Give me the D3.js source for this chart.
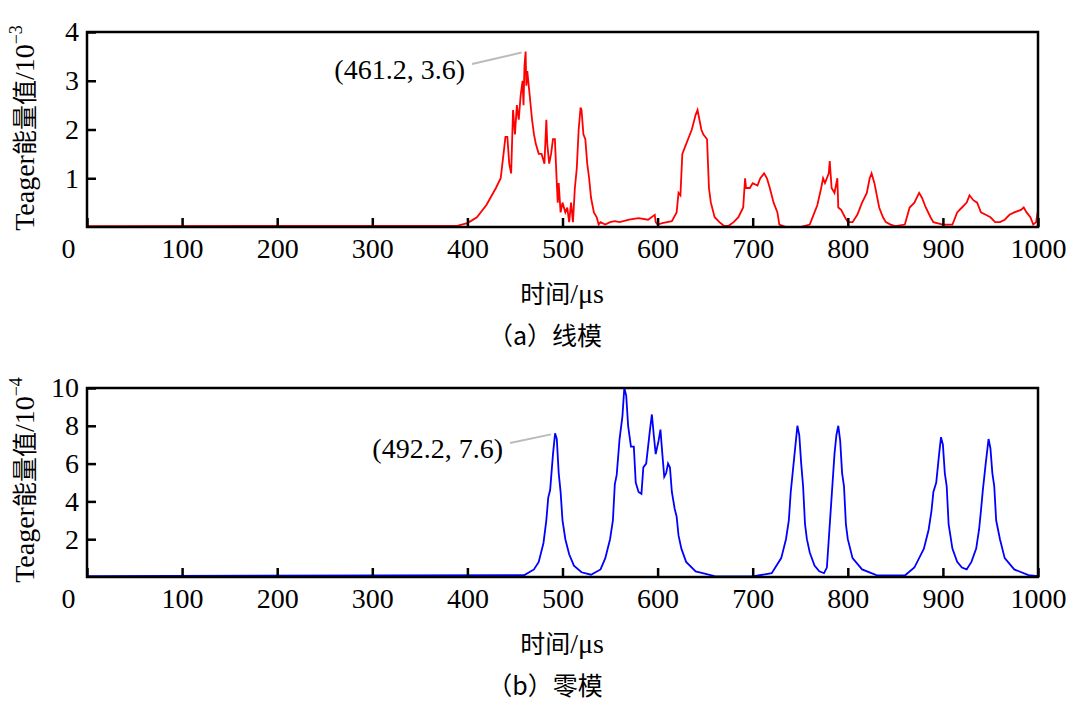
<!DOCTYPE html>
<html><head><meta charset="utf-8">
<script src="https://cdn.jsdelivr.net/npm/d3@7"></script>
<style>body{margin:0;background:#fff}text{font-family:"Liberation Serif","Times New Roman",serif;fill:#000}.cjk{font-family:"Noto Sans CJK SC",sans-serif}</style>
</head><body><svg id="c" width="1071" height="704"></svg>
<script>
const xTicks=[0,100,200,300,400,500,600,700,800,900,1000];
const yTicksA=[1,2,3,4];
const yTicksB=[2,4,6,8,10];
const lineModeT=[0,390,400,410,420,430,435,438,440,442,444,446,448,450,452,454,456,458,459,460,461.2,462,463,465,468,470,472,475,478,481,483,484,486,488,490,492,494,495,496,498,500,503,505,507,509,511,513,515,517,519,520,522,524,526,528,530,533,536,538,540,545,550,555,560,570,580,590,597,598,600,605,610,615,620,622,624,626,630,632,636,640,642,644,646,648,652,654,656,660,665,670,675,680,685,690,692,693,697,700,705,708,712,715,718,722,726,728,735,750,760,765,768,772,774,776,780,781,783,786,789,790,793,797,800,805,810,815,820,823,825,828,830,833,837,840,845,850,860,865,870,875,878,882,887,890,900,910,915,920,925,928,932,936,940,945,950,955,960,965,970,975,982,985,988,992,995,998,1000];
const lineModeV=[0.02,0.03,0.08,0.2,0.45,0.8,1.0,1.5,1.85,1.85,1.3,1.1,2.4,1.9,2.5,2.2,2.7,3.0,2.5,3.3,3.6,2.9,3.2,2.8,2.2,1.9,1.7,1.5,1.5,1.3,2.2,1.7,1.3,1.5,1.8,1.8,0.9,0.5,0.9,0.3,0.5,0.3,0.4,0.1,0.5,0.1,0.8,1.2,2.0,2.45,2.4,1.9,1.8,1.3,1.0,0.6,0.3,0.2,0.05,0.1,0.05,0.1,0.12,0.1,0.15,0.18,0.15,0.25,0.1,0.05,0.08,0.1,0.12,0.3,0.7,0.65,1.5,1.7,1.8,2.0,2.3,2.4,2.2,2.0,1.9,1.8,0.8,0.5,0.2,0.1,0.02,0.03,0.1,0.2,0.4,1.0,0.8,0.8,0.9,0.85,1.0,1.1,1.0,0.8,0.5,0.3,0.05,0.0,0.0,0.05,0.3,0.45,0.8,1.0,0.9,1.1,1.35,0.8,0.7,1.0,0.4,0.35,0.2,0.1,0.1,0.25,0.5,0.7,1.0,1.1,0.9,0.7,0.4,0.2,0.1,0.05,0.02,0.05,0.4,0.5,0.7,0.6,0.4,0.2,0.1,0.05,0.05,0.3,0.4,0.5,0.65,0.55,0.5,0.3,0.25,0.2,0.1,0.1,0.15,0.25,0.3,0.35,0.4,0.3,0.2,0.05,0.1,0.35];
const zeroModeT=[0,460,470,475,480,483,485,487,490,492.2,494,496,498,500,503,507,512,520,530,540,545,550,553,555,557,560,563,565,567,569,572,575,577,580,583,585,588,592,594,596,598,601,603,605,607,609,611,613,615,618,620,622,625,630,640,660,700,720,730,735,738,740,742,745,747,749,751,753,755,757,760,765,770,775,778,780,782,784,786,788,790,792,794,796,798,800,805,815,830,860,870,880,885,888,890,893,896,898,900,902,904,906,910,915,920,925,930,935,938,940,942,945,948,950,952,954,956,960,965,975,990,1000];
const zeroModeV=[0.05,0.1,0.4,0.8,1.8,3.0,4.2,4.6,6.5,7.6,7.3,5.5,4.5,3.0,2.0,1.2,0.6,0.25,0.12,0.4,1.0,2.0,3.0,4.9,5.4,7.3,8.5,10.0,9.6,8.0,6.9,6.9,5.0,4.5,4.4,5.8,6.0,7.8,8.6,7.5,6.5,7.2,7.8,6.5,5.3,5.5,6.0,5.8,4.5,3.6,3.2,2.2,1.5,0.8,0.3,0.05,0.03,0.2,1.0,2.0,3.0,4.5,5.5,7.0,8.0,7.5,6.0,4.8,2.8,2.0,1.3,0.6,0.3,0.2,0.5,2.0,3.5,5.0,6.5,7.5,8.0,7.2,5.5,4.8,2.8,2.0,1.0,0.4,0.1,0.08,0.5,1.5,2.5,3.5,4.5,5.0,6.5,7.4,7.0,5.5,4.8,2.8,1.5,0.8,0.5,0.4,0.8,1.5,2.5,3.5,4.6,6.0,7.3,6.8,5.5,4.8,3.0,2.0,1.0,0.4,0.1,0.05];

const svg=d3.select("#c");
function panel(o){
  const x=d3.scaleLinear().domain([0,1000]).range([87,1038]);
  const y=d3.scaleLinear().domain([0,o.ymax]).range([o.y0,o.y1]);
  const g=svg.append("g");
  const data=o.t.map((t,i)=>[t,o.v[i]]);
  g.append("path").datum(data).attr("fill","none").attr("stroke",o.color).attr("stroke-width",1.8)
    .attr("d",d3.line().x(d=>x(d[0])).y(d=>y(d[1])));
  const xa=g.append("g").attr("transform",`translate(0,${o.y0})`).call(d3.axisBottom(x).tickValues(xTicks).tickSize(-9).tickPadding(11).tickFormat(d=>d));
  xa.select(".domain").remove();
  xa.selectAll("line").attr("stroke-width",2.5);
  xa.selectAll("text").attr("font-size",28).attr("dy","0.72em").attr("dx",d=>d===0?-19:0);
  const ya=g.append("g").attr("transform","translate(87,0)").call(d3.axisLeft(y).tickValues(o.yt).tickSize(-9).tickPadding(8).tickFormat(d=>d));
  ya.select(".domain").remove();
  ya.selectAll("line").attr("stroke-width",2.5);
  ya.selectAll("text").attr("font-size",28);
  g.append("rect").attr("x",87).attr("y",o.y1).attr("width",951).attr("height",o.y0-o.y1).attr("fill","none").attr("stroke","#000").attr("stroke-width",2.5);
  const yl=g.append("text").attr("transform",`translate(34,${o.ylc}) rotate(-90)`).attr("text-anchor","middle").attr("font-size",28);
  yl.append("tspan").text("Teager");
  yl.append("tspan").attr("class","cjk").attr("font-size",25).text("能量值");
  yl.append("tspan").text("/10");
  yl.append("tspan").attr("dy",-12).attr("font-size",18).text(o.exp);
  const xl=g.append("text").attr("x",562).attr("y",o.y0+76).attr("text-anchor","middle").attr("font-size",28);
  xl.append("tspan").attr("class","cjk").attr("font-size",25).text("时间");
  xl.append("tspan").text("/μs");
  g.append("text").attr("class","cjk").attr("x",545).attr("y",o.y0+118).attr("text-anchor","middle").attr("font-size",25).text(o.cap);
  g.append("line").attr("x1",o.ax[0]).attr("y1",o.ax[1]).attr("x2",x(o.pk[0])-4).attr("y2",y(o.pk[1])+1).attr("stroke","#bbb").attr("stroke-width",2);
  g.append("text").attr("x",o.ax[0]-7).attr("y",o.ax[1]+15).attr("text-anchor","end").attr("font-size",28).text(`(${o.pk[0]}, ${o.pk[1]})`);
}
panel({t:lineModeT,v:lineModeV,ymax:4,y0:227,y1:32,yt:yTicksA,color:"#f00",exp:"−3",ylc:128,cap:"（a）线模",pk:[461.2,3.6],ax:[472,64]});
panel({t:zeroModeT,v:zeroModeV,ymax:10,y0:577,y1:388,yt:yTicksB,color:"#00f",exp:"−4",ylc:480,cap:"（b）零模",pk:[492.2,7.6],ax:[510,443]});
</script></body></html>
